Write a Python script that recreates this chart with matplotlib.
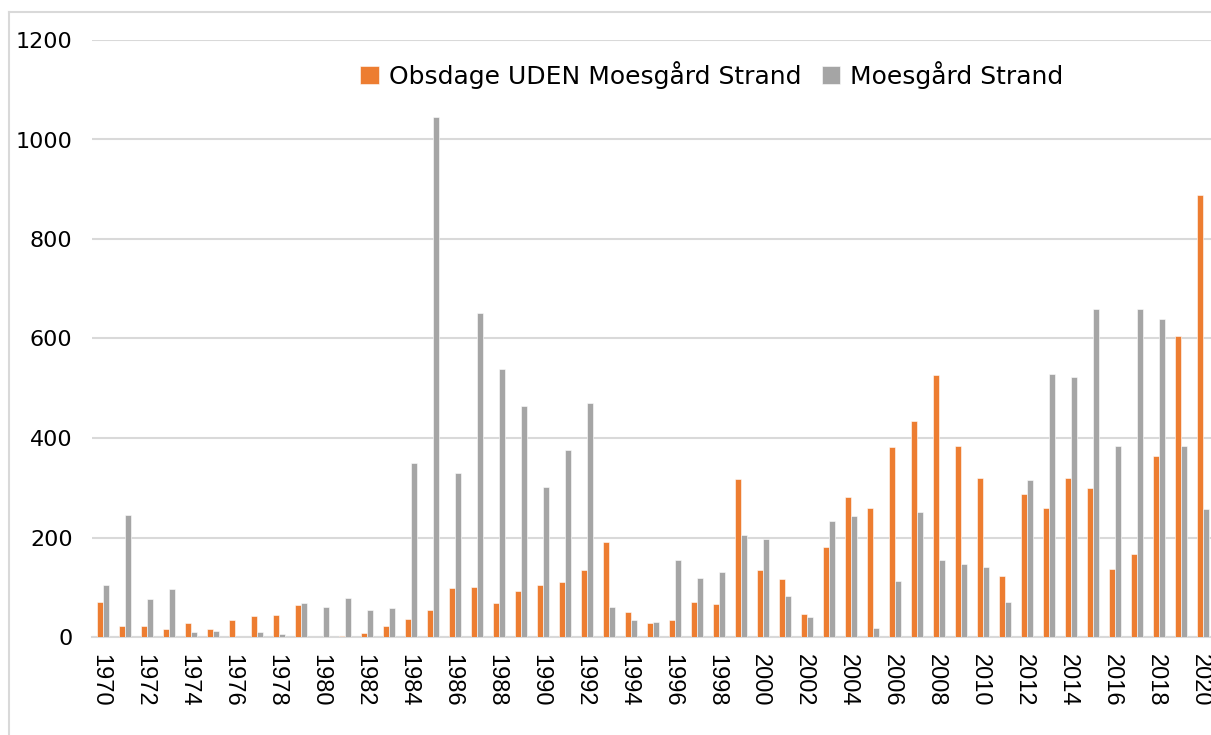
import numpy as np
import matplotlib.pyplot as plt
import matplotlib.transforms as mtransforms
from matplotlib.lines import Line2D

years = list(range(1970, 2021))
uden = [70, 22, 22, 16, 29, 16, 35, 42, 44, 64,
        0, 2, 9, 23, 37, 54, 98, 101, 69, 93,
        104, 110, 135, 191, 51, 29, 34, 71, 67, 317,
        134, 117, 47, 180, 282, 260, 382, 434, 527, 383,
        320, 123, 288, 259, 320, 299, 136, 166, 364, 606,
        889]
moesgaard = [105, 246, 76, 96, 11, 13, 0, 11, 7, 68,
             61, 79, 55, 58, 349, 1046, 330, 652, 538, 464,
             302, 376, 471, 60, 35, 30, 154, 119, 130, 206,
             197, 82, 41, 234, 243, 19, 112, 251, 154, 147,
             141, 71, 316, 529, 522, 659, 383, 659, 639, 383,
             257]
tick_years = [y for y in years if y % 2 == 0]

orange = '#ED7D31'
grey = '#A5A5A5'
gridc = '#D9D9D9'

fig = plt.figure(figsize=(12.11, 7.35), dpi=100)
ax = fig.add_axes([92/1211, 98/735, (1214-92)/1211, (637-40)/735])

x = np.arange(len(years))
w = 0.27
ax.bar(x - w/2, uden, width=w, color=orange, edgecolor='white', linewidth=0.4,
       label='Obsdage UDEN Moesgård Strand', zorder=3)
ax.bar(x + w/2, moesgaard, width=w, color=grey, edgecolor='white', linewidth=0.4,
       label='Moesgård Strand', zorder=3)

ax.set_xlim(-0.5, len(years) - 0.5)
ax.set_ylim(0, 1200)
ax.set_yticks(range(0, 1201, 200))
ax.tick_params(axis='y', length=0, pad=14, labelsize=16)
ax.set_xticks([years.index(y) for y in tick_years])
ax.set_xticklabels([str(y) for y in tick_years], rotation=-90,
                   fontfamily='Liberation Sans', fontsize=17)
ax.tick_params(axis='x', length=0, pad=12)
shift = mtransforms.ScaledTranslation(-3/100, 0, fig.dpi_scale_trans)
for lab in ax.get_xticklabels():
    lab.set_transform(lab.get_transform() + shift)

ax.grid(axis='y', color=gridc, linewidth=1.5, zorder=0)
for s in ['top', 'right', 'left']:
    ax.spines[s].set_visible(False)
ax.spines['bottom'].set_color(gridc)
ax.spines['bottom'].set_linewidth(1.5)

ax.legend(loc='center', bbox_to_anchor=(712/1211, 1 - 75/735), bbox_transform=fig.transFigure,
          ncol=2, frameon=False, fontsize=18, handlelength=0.75, handleheight=0.75,
          handletextpad=0.4, columnspacing=0.8)

# chart area border (top and left edges visible)
fig.add_artist(Line2D([9/1211, 1], [1 - 12/735, 1 - 12/735], color=gridc, linewidth=1.5))
fig.add_artist(Line2D([9/1211, 9/1211], [0, 1 - 12/735], color=gridc, linewidth=1.5))

fig.savefig('out.png', dpi=100)
